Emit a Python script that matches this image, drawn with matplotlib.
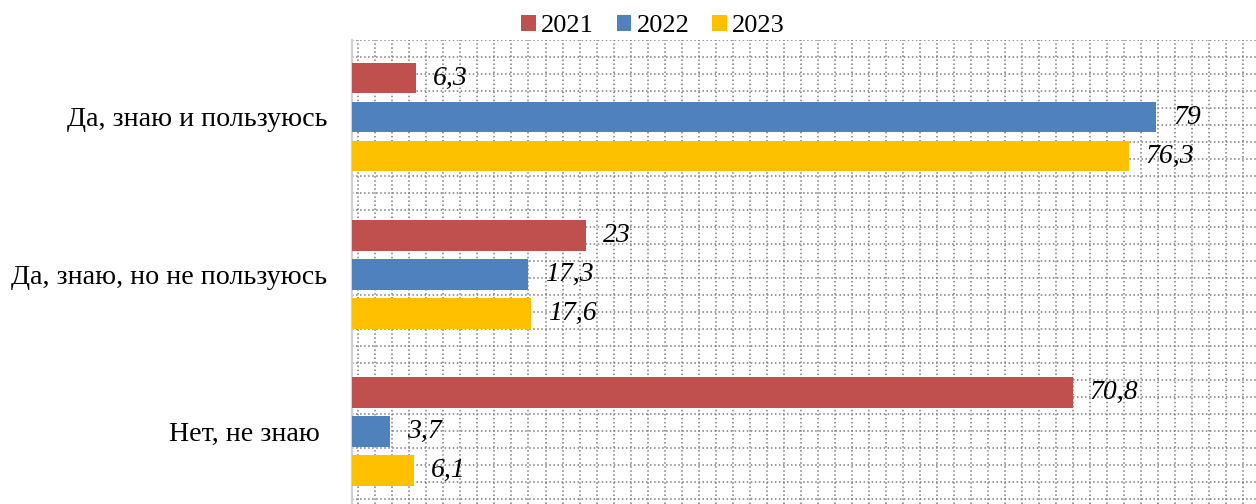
import matplotlib
matplotlib.use("Agg")
import matplotlib.pyplot as plt
from matplotlib.patches import Patch
import numpy as np

plt.rcParams['font.family'] = ['Liberation Serif', 'DejaVu Serif']
plt.rcParams['lines.scale_dashes'] = False

categories = ["Да, знаю и пользуюсь", "Да, знаю, но не пользуюсь", "Нет, не знаю "]
years = ["2021", "2022", "2023"]
values_2021 = [6.3, 23, 70.8]
values_2022 = [79, 17.3, 3.7]
values_2023 = [76.3, 17.6, 6.1]
labels_2021 = ["6,3", "23", "70,8"]
labels_2022 = ["79", "17,3", "3,7"]
labels_2023 = ["76,3", "17,6", "6,1"]
colors = ["#C0504D", "#4F81BD", "#FFC000"]

W, H = 1256, 504
fig = plt.figure(figsize=(W / 100, H / 100), dpi=100)
ax_left, ax_top = 352, 40
ax = fig.add_axes([ax_left / W, 0, (W - ax_left) / W, (H - ax_top) / H])

px_per_unit = 10.18
cat_px = 157.25
c0 = 117

# background dotted pattern (plot-area fill), positions in pixels -> data
grid_kw = dict(color="#7c7c7c", lw=1.1, linestyle=(0, (1.1, 1.8)), zorder=0)
xs = np.arange(358.3, W + 1, 17.02)
for xp in xs:
    ax.axvline((xp - ax_left) / px_per_unit, **grid_kw)
ys = np.arange(ax_top, H + 1, 17.0)
for yp in ys:
    ax.axhline((yp - c0) / cat_px, **grid_kw)

y = np.arange(len(categories))
off = 0.248
h = 0.197
series = [values_2021, values_2022, values_2023]
labs = [labels_2021, labels_2022, labels_2023]
for i, (vals, lb, c) in enumerate(zip(series, labs, colors)):
    pos = y + (i - 1) * off
    ax.barh(pos, vals, height=h, color=c, zorder=2)
    for p, v, t in zip(pos, vals, lb):
        ax.annotate(t, (v, p), xytext=(12.3, 0), textcoords="offset points",
                    ha="left", va="center", fontsize=20, style="italic", zorder=3)

ax.set_xlim(0, (W - ax_left) / px_per_unit)
ax.set_ylim((H - c0) / cat_px, (ax_top - c0) / cat_px)

ax.set_yticks(y)
ax.set_yticklabels(categories, fontsize=20.2)
ax.tick_params(axis="y", length=0, pad=18)
ax.set_xticks([])
for s in ["top", "right", "bottom"]:
    ax.spines[s].set_visible(False)
ax.spines["left"].set_color("#d0d0d0")
ax.spines["left"].set_linewidth(1.5)
ax.spines["left"].set_zorder(1)

handles = [Patch(facecolor=c, edgecolor="none") for c in colors]
fs = 19
fig.legend(handles, years, loc="center", bbox_to_anchor=(653 / W, 1 - 26 / H),
           ncol=3, frameon=False, fontsize=fs, handlelength=0.56, handleheight=0.56,
           handletextpad=0.2, columnspacing=0.85, borderpad=0, borderaxespad=0)

fig.savefig("out.png", dpi=100)
